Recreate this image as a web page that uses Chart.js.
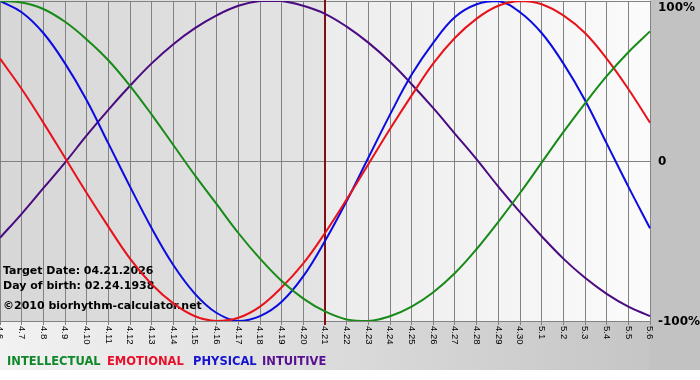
<!DOCTYPE html>
<html>
<head>
<meta charset="utf-8">
<title>Biorhythm chart</title>
<script src="https://cdn.jsdelivr.net/npm/chart.js@4.4.1/dist/chart.umd.min.js"></script>
<style>
    html, body { margin: 0; padding: 0; background: #ffffff; }
    #wrap { width: 700px; height: 380px; }
</style>
</head>
<body>
<div id="wrap"><canvas id="bioChart" width="700" height="380"></canvas></div>
<script>
// days shown on the x axis (month.day)
const dayLabels = [
    '4.6', '4.7', '4.8', '4.9', '4.10', '4.11', '4.12', '4.13', '4.14', '4.15',
    '4.16', '4.17', '4.18', '4.19', '4.20', '4.21', '4.22', '4.23', '4.24', '4.25',
    '4.26', '4.27', '4.28', '4.29', '4.30', '5.1', '5.2', '5.3', '5.4', '5.5', '5.6'
];
const targetLabel = '4.21';

// cycle values in percent, one per day
const intellectual = [100, 99, 95, 87, 76, 63, 47, 29, 10, -9, -27, -45, -61, -75, -86, -94, -99, -100, -97, -91, -82, -70, -55, -38, -20, -1, 18, 36, 53, 68, 81];
const emotional = [64, 45, 24, 2, -20, -41, -61, -77, -89, -97, -100, -98, -91, -79, -64, -45, -24, -2, 20, 41, 61, 77, 89, 97, 100, 98, 91, 80, 64, 45, 24];
const physical = [100, 93, 80, 61, 38, 11, -16, -42, -65, -83, -95, -100, -97, -88, -72, -50, -25, 2, 29, 54, 74, 90, 98, 100, 93, 80, 61, 38, 11, -16, -42];
const intuitive = [-48, -33, -17, -1, 16, 32, 47, 61, 73, 83, 91, 97, 100, 100, 97, 92, 84, 74, 62, 48, 33, 17, 1, -16, -32, -47, -61, -73, -83, -91, -97];

const seriesNames = ['INTELLECTUAL', 'EMOTIONAL', 'PHYSICAL', 'INTUITIVE'];
const yTickValues = [100, 0, -100];
const yTickLabels = ['100%', '0', '-100%'];
const infoLines = ['Target Date: 04.21.2026', 'Day of birth: 02.24.1938', '\u00A92010 biorhythm-calculator.net'];

const lineColors = ['#178a17', '#e8121a', '#0c0ce0', '#4a0a80'];
const legendColors = ['#10882a', '#e8102a', '#1414d0', '#581090'];

const bioDecor = {
    id: 'bioDecor',
    beforeDraw(chart) {
        const { ctx, chartArea: a, scales: { x } } = chart;
        const W = chart.width;
        const xt = x.getPixelForValue(dayLabels.indexOf(targetLabel));
        ctx.save();
        ctx.fillStyle = '#ffffff';
        ctx.fillRect(0, 0, W, chart.height);

        // band under the plot
        let g = ctx.createLinearGradient(0, 0, W, 0);
        g.addColorStop(0, '#f2f2f2');
        g.addColorStop(1, '#c2c2c2');
        ctx.fillStyle = g;
        ctx.fillRect(0, a.bottom, W, 370 - a.bottom);

        // panel right of the plot
        ctx.fillStyle = '#c2c2c2';
        ctx.fillRect(a.right, 0, W - a.right, 370);

        // past days darker, future days lighter
        g = ctx.createLinearGradient(a.left, 0, xt, 0);
        g.addColorStop(0, '#d7d7d7');
        g.addColorStop(1, '#e4e4e4');
        ctx.fillStyle = g;
        ctx.fillRect(a.left, 0, xt - a.left, a.bottom);
        g = ctx.createLinearGradient(xt, 0, a.right, 0);
        g.addColorStop(0, '#ececec');
        g.addColorStop(1, '#fbfbfb');
        ctx.fillStyle = g;
        ctx.fillRect(xt, 0, a.right - xt, a.bottom);
        ctx.restore();
    },
    beforeDatasetsDraw(chart) {
        const { ctx, chartArea: a, scales: { x } } = chart;
        ctx.save();
        ctx.fillStyle = '#000000';
        ctx.font = "bold 11px 'DejaVu Sans'";
        ctx.textBaseline = 'middle';
        ctx.textAlign = 'left';
        ctx.fillText(infoLines[0], 3, a.bottom - 50);
        ctx.fillText(infoLines[1], 3, a.bottom - 35);
        ctx.fillText(infoLines[2], 3, a.bottom - 15);

        const xt = x.getPixelForValue(dayLabels.indexOf(targetLabel));
        ctx.strokeStyle = '#801010';
        ctx.lineWidth = 2;
        ctx.beginPath();
        ctx.moveTo(xt, a.top - 1);
        ctx.lineTo(xt, a.bottom + 4);
        ctx.stroke();
        ctx.restore();
    },
    afterDraw(chart) {
        const { ctx, chartArea: a, scales: { x, y } } = chart;
        ctx.save();

        // right axis labels
        ctx.fillStyle = '#000000';
        ctx.font = "bold 12px 'DejaVu Sans'";
        ctx.textAlign = 'left';
        ctx.textBaseline = 'middle';
        yTickValues.forEach((v, i) => {
            const py = Math.max(8, y.getPixelForValue(v) + 1);
            ctx.fillText(yTickLabels[i], a.right + 8, py);
        });

        // day labels, turned clockwise
        ctx.font = "9.5px 'Liberation Sans'";
        ctx.fillStyle = '#000000';
        x.ticks.forEach((t, i) => {
            const px = x.getPixelForTick(i);
            ctx.save();
            ctx.translate(px, a.bottom + 5);
            ctx.rotate(Math.PI / 2);
            ctx.textAlign = 'left';
            ctx.textBaseline = 'middle';
            ctx.fillText(dayLabels[i], 0, 0);
            ctx.restore();
        });

        // legend
        ctx.font = "bold 11.5px 'DejaVu Sans'";
        ctx.textBaseline = 'middle';
        const legendX = [7, 107, 193, 262];
        chart.data.datasets.forEach((ds, i) => {
            ctx.fillStyle = legendColors[i];
            ctx.fillText(ds.label, legendX[i], 362);
        });
        ctx.restore();
    }
};

const makeSet = (label, data, color) => ({
    label: label,
    data: data,
    borderColor: color,
    backgroundColor: color,
    borderWidth: 2,
    pointRadius: 0,
    pointHoverRadius: 0,
    tension: 0.4,
    fill: false
});

window.bioChart = new Chart(document.getElementById('bioChart'), {
    type: 'line',
    data: {
        labels: dayLabels,
        datasets: [
            makeSet(seriesNames[0], intellectual, lineColors[0]),
            makeSet(seriesNames[1], emotional, lineColors[1]),
            makeSet(seriesNames[2], physical, lineColors[2]),
            makeSet(seriesNames[3], intuitive, lineColors[3])
        ]
    },
    options: {
        responsive: false,
        animation: false,
        devicePixelRatio: 1,
        layout: {
            autoPadding: false,
            padding: { left: 0, top: 1, right: 50, bottom: 55 }
        },
        scales: {
            x: {
                ticks: { display: false },
                grid: { color: '#828282', lineWidth: 1, drawTicks: true, tickLength: 4 },
                border: { display: false }
            },
            y: {
                position: 'right',
                min: -100,
                max: 100,
                ticks: { display: false, stepSize: 100 },
                grid: { color: '#828282', lineWidth: 1, drawTicks: false },
                border: { display: false }
            }
        },
        plugins: {
            legend: { display: false },
            tooltip: { enabled: false }
        }
    },
    plugins: [bioDecor]
});
</script>
</body>
</html>
